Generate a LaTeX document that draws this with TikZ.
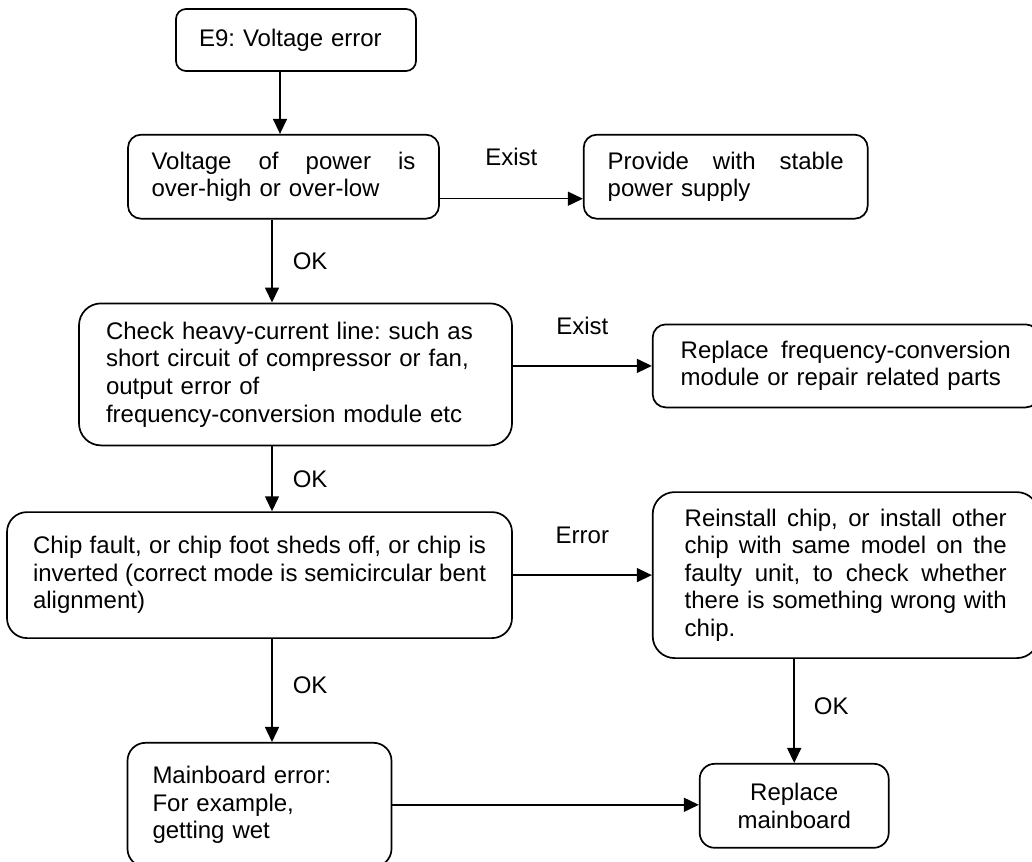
\documentclass[tikz,border=0pt]{standalone}
\usepackage{fontspec}
\setmainfont{Liberation Sans}
\usepackage{tikz}
\usetikzlibrary{positioning,arrows.meta}
\newcommand{\boxfont}{\fontsize{24pt}{27.6pt}\selectfont\frenchspacing}
\newcommand{\spreadline}[1]{{\spaceskip=0pt\xspaceskip=0pt\makebox[\hsize][s]{#1}}}

\begin{document}
\begin{tikzpicture}[x=1pt, y=-1pt,
    box/.style={draw, rectangle, rounded corners=13pt, line width=1.7pt, inner sep=0pt, align=left, font=\boxfont},
    arrow/.style={-{Triangle[length=15pt,width=14pt]}, line width=1.5pt},
    lbl/.style={inner sep=0pt, font=\boxfont}
]
\useasboundingbox (0,0) rectangle (1032,861);

% Inicio
\node[box, minimum width=240pt, minimum height=62pt, text width=194pt, rounded corners=10pt] (e9) at (296,40) {E9: Voltage error};

% Tension de red
\node[box, below=62pt of e9, xshift=-12.5pt, minimum width=311pt, minimum height=84pt, text width=264pt] (volt) {\spreadline{Voltage of power is}\\over-high or over-low};
\node[box, right=143pt of volt, minimum width=284pt, minimum height=84pt, text width=236pt] (prov) {\spreadline{Provide with stable}\\power supply};

% Linea de potencia
\node[box, below=83pt of volt, xshift=12pt, minimum width=433pt, minimum height=142pt, text width=379pt, rounded corners=22pt] (heavy) {Check heavy-current line: such as\\short circuit of compressor or fan,\\output error of\\frequency-conversion module etc};
\node[box, right=141pt of heavy, yshift=8.5pt, minimum width=386pt, minimum height=83pt, text width=330pt, xshift=-2pt] (freq) {\spreadline{Replace frequency-conversion}\\module or repair related parts};

% Chip
\node[box, below=65pt of heavy, xshift=-36pt, minimum width=505pt, minimum height=126pt, text width=453pt, rounded corners=20pt] (chip) {\spreadline{Chip fault, or chip foot sheds off, or chip is}\\\spreadline{inverted (correct mode is semicircular bent}\\alignment)};
\node[box, right=141pt of chip, xshift=-2pt, minimum width=386pt, minimum height=166pt, text width=322pt, rounded corners=22pt] (reinst) {\spreadline{Reinstall chip, or install other}\\\spreadline{chip with same model on the}\\\spreadline{faulty unit, to check whether}\\\spreadline{there is something wrong with}\\chip.};

% Placa principal
\node[box, below=103pt of chip, minimum width=264pt, minimum height=124pt, text width=214pt, rounded corners=18pt] (mainerr) {Mainboard error:\\For example,\\getting wet};
\node[box, below=104pt of reinst, xshift=-51.5pt, minimum width=189pt, minimum height=84pt, text width=141pt, align=center, rounded corners=15pt] (repl) {Replace\\mainboard};

% Conexiones
\draw[arrow] ([xshift=-16pt]e9.south) -- ([xshift=-16pt]e9.south |- volt.north);
\draw[arrow] ([yshift=-22pt]volt.east) -- ([yshift=-22pt]volt.east -| prov.west) node[lbl, midway, above=32pt]{Exist};
\draw[arrow] ([xshift=-11.5pt]volt.south) -- ([xshift=-11.5pt]volt.south |- heavy.north) node[lbl, midway, right=20pt]{OK};
\draw[arrow] (heavy.east |- freq.west) -- (freq.west) node[lbl, midway, above=30pt]{Exist};
\draw[arrow] ([xshift=-23.5pt]heavy.south) -- ([xshift=-23.5pt]heavy.south |- chip.north) node[lbl, midway, right=20pt]{OK};
\draw[arrow] (chip.east) -- (reinst.west) node[lbl, midway, above=31pt]{Error};
\draw[arrow] ([xshift=12.5pt]chip.south) -- ([xshift=12.5pt]chip.south |- mainerr.north) node[lbl, pos=0.45, right=20pt]{OK};
\draw[arrow] (repl.north |- reinst.south) -- (repl.north) node[lbl, pos=0.45, right=19pt]{OK};
\draw[arrow] (mainerr.east) -- (mainerr.east -| repl.west);

\end{tikzpicture}
\end{document}
